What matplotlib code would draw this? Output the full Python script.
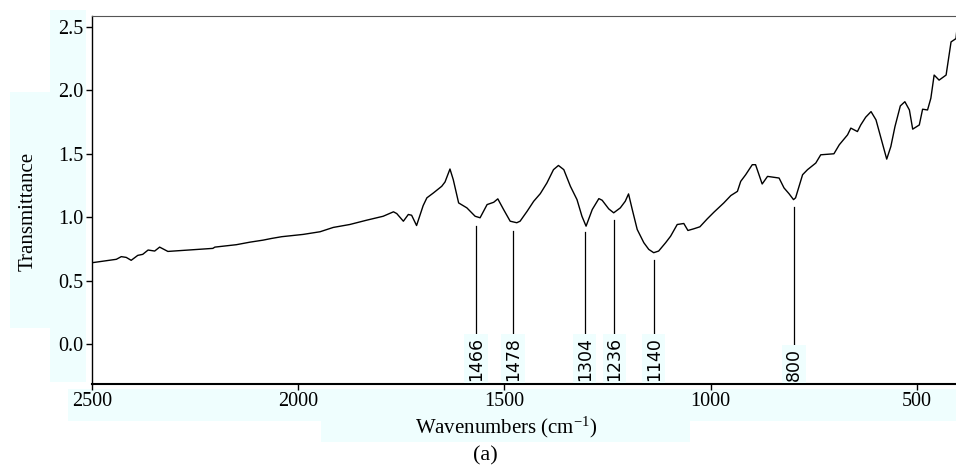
import matplotlib
matplotlib.use("Agg")
import matplotlib.pyplot as plt
import matplotlib.patches as patches

plt.rcParams['font.family'] = ['Liberation Serif', 'DejaVu Serif']
plt.rcParams['mathtext.fontset'] = 'stix'

# spectrum
wavenumber = [2500, 2441, 2429, 2417, 2405, 2389, 2377, 2364, 2348, 2336, 2316, 2279,
              2239, 2207, 2202, 2150, 2117, 2085, 2065, 2040, 1988, 1947, 1915, 1875,
              1834, 1794, 1769, 1761, 1745, 1733, 1725, 1713, 1697, 1688, 1672, 1652,
              1644, 1632, 1624, 1611, 1591, 1571, 1559, 1542, 1526, 1516, 1502, 1486,
              1470, 1462, 1445, 1429, 1413, 1397, 1381, 1369, 1356, 1340, 1324, 1312,
              1302, 1287, 1271, 1263, 1247, 1235, 1219, 1207, 1199, 1190, 1178, 1162,
              1150, 1138, 1126, 1109, 1097, 1081, 1065, 1055, 1041, 1026, 1008, 992,
              968, 951, 935, 927, 915, 899, 891, 875, 862, 834, 822, 810, 799, 794,
              777, 765, 745, 733, 701, 688, 668, 660, 644, 636, 624, 611, 599, 587,
              573, 563, 553, 540, 529, 518, 510, 494, 486, 474, 466, 458, 446, 429,
              417, 405, 403]
transmittance = [0.640, 0.667, 0.688, 0.682, 0.659, 0.698, 0.706, 0.740, 0.732, 0.763, 0.729, 0.737,
                 0.745, 0.753, 0.763, 0.782, 0.802, 0.818, 0.831, 0.845, 0.863, 0.884, 0.918, 0.941,
                 0.975, 1.006, 1.041, 1.027, 0.967, 1.020, 1.014, 0.933, 1.090, 1.151, 1.190, 1.242,
                 1.276, 1.378, 1.294, 1.111, 1.072, 1.006, 0.994, 1.098, 1.116, 1.143, 1.059, 0.967,
                 0.955, 0.967, 1.045, 1.124, 1.184, 1.268, 1.373, 1.406, 1.373, 1.242, 1.137, 1.006,
                 0.928, 1.059, 1.145, 1.132, 1.064, 1.033, 1.072, 1.124, 1.182, 1.059, 0.902, 0.798,
                 0.745, 0.719, 0.732, 0.798, 0.849, 0.941, 0.949, 0.894, 0.907, 0.923, 0.986, 1.038,
                 1.111, 1.169, 1.202, 1.281, 1.333, 1.412, 1.412, 1.260, 1.320, 1.307, 1.229, 1.184, 1.137, 1.151,
                 1.333, 1.373, 1.425, 1.490, 1.498, 1.569, 1.647, 1.700, 1.673, 1.725, 1.786, 1.830, 1.765, 1.621,
                 1.456, 1.555, 1.712, 1.875, 1.908, 1.843, 1.692, 1.725, 1.849, 1.843, 1.935, 2.118, 2.078, 2.118,
                 2.379, 2.405, 2.470]

# peak markers: where the line sits, how high it reaches, and the printed label
peak_pos = [1569, 1479, 1305, 1234, 1138, 798]
peak_top = [0.93, 0.89, 0.88, 0.98, 0.66, 1.08]
peak_labels = ['1466', '1478', '1304', '1236', '1140', '800']

y_ticks = [0.0, 0.5, 1.0, 1.5, 2.0, 2.5]
x_ticks = [2500, 2000, 1500, 1000, 500]

W, H = 956, 469
fig = plt.figure(figsize=(W / 100, H / 100), dpi=100)
ax = fig.add_axes([92 / W, 1 - 384 / H, 864 / W, 368 / H])

# pale cyan highlight blocks behind the label areas
cyan = '#effefe'
for (x0, y0, x1, y1) in [(50, 10, 86, 382), (10, 92, 50, 328),
                         (68, 389, 956, 421), (321, 421, 690, 442)]:
    fig.patches.append(patches.Rectangle((x0 / W, 1 - y1 / H), (x1 - x0) / W, (y1 - y0) / H,
                                         transform=fig.transFigure, facecolor=cyan,
                                         edgecolor='none', zorder=-5))

ax.plot(wavenumber, transmittance, color='black', lw=1.0, zorder=3)

bottom = -0.29
for pos, top, lab in zip(peak_pos, peak_top, peak_labels):
    ax.plot([pos, pos], [top, bottom], color='black', lw=0.9, zorder=2)
    ax.text(pos, bottom, lab, rotation=90, ha='center', va='bottom',
            family='DejaVu Sans', fontsize=12.5, zorder=4,
            bbox=dict(boxstyle='square,pad=0.15', facecolor=cyan, edgecolor='none'))

ax.set_xlim(2500, 405)
ax.set_ylim(-0.315, 2.583)
ax.set_xticks(x_ticks)
ax.set_yticks(y_ticks)
ax.set_yticklabels([f'{v:.1f}' for v in y_ticks])
ax.tick_params(axis='both', direction='out', length=4, width=1, labelsize=14.5, pad=2)

ax.spines['right'].set_visible(False)
ax.spines['top'].set_color('#555555')
ax.spines['top'].set_linewidth(0.8)
ax.spines['left'].set_linewidth(1.0)
ax.spines['bottom'].set_linewidth(1.5)

fig.text(28 / W, 1 - 211 / H, 'Transmittance', rotation=90, ha='center', va='center', fontsize=15)
fig.text(506 / W, 1 - 427 / H, 'Wavenumbers (cm$^{\\mathregular{-1}}$)', ha='center', va='center',
         fontsize=15)
fig.text(485 / W, 1 - 456 / H, '(a)', ha='center', va='center', fontsize=16)

fig.savefig('out.png', dpi=100)
